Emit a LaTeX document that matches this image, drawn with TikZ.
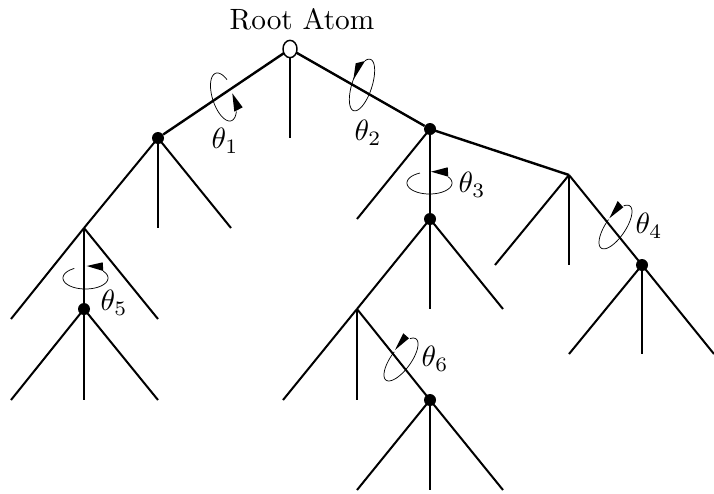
\documentclass[tikz,border=0pt]{standalone}
\usetikzlibrary{shapes.geometric}
\tikzset{
  bond/.style={line width=1.5pt},
  mainbond/.style={line width=1.8pt},
  atom/.style={circle,fill=black,draw=none,inner sep=0pt,minimum size=9pt},
  rootatom/.style={ellipse,draw=black,fill=white,line width=1.1pt,inner sep=0pt,minimum width=10.5pt,minimum height=13pt},
  spin/.style={line width=0.55pt},
  spinhead/.style={fill=black,draw=none},
  lbl/.style={inner sep=0pt,scale=2.2}
}
\newcommand{\spinarc}[7]{%
  \draw[spin,shift={(#1,#2)},rotate=#3] plot[domain=#6:#7,samples=60,smooth] ({#4*cos(\x)},{#5*sin(\x)});}
\begin{document}
\begin{tikzpicture}[x=0.75pt,y=-0.75pt]
\useasboundingbox (0,0) rectangle (714,493);
% branch points and free ends
\foreach \n/\x/\y in {
 rm/290/138, a1/84/228, a2/158/228, a3/231/228,
 c1/11/319, c3/158/319, d1/11/400, d2/84/400, d3/158/400,
 b1/357/219, b3/569/175,
 e1/357/309, e2/430/309, e3/503/309,
 f1/283/400, f2/357/400,
 g1/357/490, g2/430/490, g3/503/490,
 h1/495/265, h2/569/265,
 i1/569/354, i2/642/354, i3/714/354}
 {\coordinate (\n) at (\x,\y);}
% atoms
\node[atom] (A) at (158,138) {};
\node[atom] (B) at (430,129) {};
\node[atom] (C) at (84,309) {};
\node[atom] (E) at (430,219) {};
\node[atom] (G) at (430,400) {};
\node[atom] (I) at (642,265) {};
\coordinate (Rc) at (290,49);
% bonds
\foreach \p/\q in {Rc/A,Rc/B,B.center/b3}
 {\draw[mainbond] (\p) -- (\q);}
\foreach \p/\q in {Rc/rm,
  A.center/a1,A.center/a2,A.center/a3,
  a1/c1,a1/C.center,a1/c3,
  C.center/d1,C.center/d2,C.center/d3,
  B.center/b1,B.center/E.center,
  E.center/e1,E.center/e2,E.center/e3,
  e1/f1,e1/f2,e1/G.center,
  G.center/g1,G.center/g2,G.center/g3,
  b3/h1,b3/h2,b3/I.center,
  I.center/i1,I.center/i2,I.center/i3}
 {\draw[bond] (\p) -- (\q);}
\node[rootatom] (R) at (290,49) {};
% torsion arcs
\spinarc{223.5}{97}{-72}{25}{11}{-45}{232}
\spinarc{362}{85}{72}{27}{10}{-28}{280}
\spinarc{429.5}{183}{0}{22.5}{11}{-33}{245}
\spinarc{85.5}{278}{0}{22.5}{11}{-38}{240}
\spinarc{615.5}{227}{56}{25.5}{10}{-30}{275}
\spinarc{401}{359.5}{54}{25.5}{10}{-30}{275}
% arrowheads
\fill[spinhead] (232.3,93.3) -- (234.3,111.7) -- (242.7,107.3) -- cycle;
\fill[spinhead] (353.3,80) -- (355.7,63.3) -- (365,61) -- cycle;
\fill[spinhead] (431,171.7) -- (447.7,167.3) -- (448.3,176.7) -- cycle;
\fill[spinhead] (86.7,266) -- (102.7,262.3) -- (103.3,271) -- cycle;
\fill[spinhead] (609.3,218.3) -- (617.7,201) -- (623.3,207.3) -- cycle;
\fill[spinhead] (395,350) -- (403.3,333.3) -- (409,338.3) -- cycle;
% labels
\node[lbl] (rootlabel) at (302,19) {Root Atom};
\node[lbl] (t1) at (225,141) {$\theta_1$};
\node[lbl] (t2) at (368,133) {$\theta_2$};
\node[lbl] (t3) at (472,185) {$\theta_3$};
\node[lbl] (t4) at (649,226) {$\theta_4$};
\node[lbl] (t5) at (114,303) {$\theta_5$};
\node[lbl] (t6) at (435,359) {$\theta_6$};
\end{tikzpicture}
\end{document}
